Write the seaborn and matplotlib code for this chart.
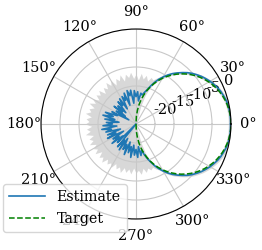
import numpy as np
import matplotlib
matplotlib.use("Agg")
import matplotlib.pyplot as plt
import seaborn as sns

# angles in degrees, 3 deg steps
angles_deg = list(range(0, 360, 3))

estimate_db = [
    -0.1, -0.1, -0.1, -0.2, -0.3, -0.5, -0.8, -1.1, -1.5, -2.0,     # 0-27
    -2.5, -3.1, -3.7, -4.4, -5.1, -5.9, -6.8, -7.7, -8.6, -9.6,     # 30-57
    -10.7, -11.8, -13.0, -14.3, -15.5, -16.4, -17.2, -16.8, -18.9, -16.5,  # 60-87
    -17.8, -16.2, -19.5, -16.0, -17.4, -15.9, -19.8, -16.3, -18.2, -16.9,  # 90-117
    -20.4, -17.1, -19.0, -17.5, -21.0, -18.3, -20.2, -17.6, -21.5, -18.8,  # 120-147
    -22.8, -17.9, -19.6, -16.4, -18.7, -16.0, -19.3, -16.7, -20.5, -17.2,  # 150-177
    -18.8, -16.3, -19.9, -15.9, -18.4, -16.8, -20.7, -17.0, -19.2, -16.6,  # 180-207
    -21.2, -17.8, -19.5, -16.9, -20.3, -18.1, -25.0, -17.3, -19.8, -16.9,  # 210-237
    -20.6, -17.5, -19.1, -16.4, -20.0, -17.2, -18.9, -16.1, -19.4, -16.8,  # 240-267
    -18.3, -16.2, -19.0, -16.6, -17.9, -16.7, -15.5, -14.3, -13.0, -11.8,  # 270-297
    -10.7, -9.6, -8.6, -7.7, -6.8, -5.9, -5.1, -4.4, -3.7, -3.1,    # 300-327
    -2.5, -2.0, -1.5, -1.1, -0.8, -0.5, -0.3, -0.2, -0.1, -0.1,     # 330-357
]

band_hi_db = [
    0.0, 0.0, 0.0, 0.0, 0.0, -0.1, -0.4, -0.7, -1.1, -1.6,
    -2.1, -2.7, -3.3, -4.0, -4.7, -5.5, -6.4, -7.3, -8.2, -9.2,
    -10.2, -11.0, -11.8, -12.6, -12.1, -13.3, -11.9, -13.0, -11.6, -13.4,
    -11.8, -13.0, -11.3, -12.6, -11.6, -13.3, -11.4, -12.8, -11.9, -13.5,
    -11.7, -12.9, -11.5, -13.1, -12.1, -13.6, -11.8, -12.9, -12.0, -13.4,
    -11.8, -13.0, -11.5, -13.2, -12.0, -12.7, -11.4, -13.1, -11.8, -12.6,
    -11.6, -13.3, -11.9, -12.8, -11.4, -13.4, -12.0, -12.9, -11.6, -13.2,
    -12.0, -12.9, -11.7, -13.4, -11.9, -12.7, -11.5, -13.1, -12.0, -12.8,
    -11.8, -13.3, -12.1, -12.9, -11.6, -13.1, -12.0, -13.0, -11.8, -13.4,
    -12.1, -12.8, -11.7, -13.2, -12.0, -13.0, -12.3, -12.8, -12.0, -11.4,
    -10.2, -9.1, -8.1, -7.2, -6.3, -5.4, -4.6, -3.9, -3.2, -2.6,
    -2.0, -1.5, -1.0, -0.6, -0.3, -0.1, 0.0, 0.0, 0.0, 0.0,
]

band_lo_db = (
    [-0.7, -0.7, -0.7, -0.8, -0.9, -1.1, -1.4, -1.7, -2.1, -2.6,
     -3.1, -3.7, -4.3, -5.0, -5.7, -6.5, -7.4, -8.3, -9.2, -10.2,
     -11.3, -12.4, -13.6, -15.0, -17.0, -20.0]
    + [-25.0] * 69
    + [-20.0, -17.0, -15.0, -13.6, -12.4, -11.3, -10.2, -9.2, -8.3, -7.4,
       -6.5, -5.7, -5.0, -4.3, -3.7, -3.1, -2.6, -2.1, -1.7, -1.4,
       -1.1, -0.9, -0.8, -0.7, -0.7]
)

# target main lobe, -90..90 deg
target_deg = list(range(-90, 91, 3))
target_db = [
    -25.0, -22.96, -21.33, -19.83, -18.42, -17.08, -15.79, -14.55, -13.36, -12.22,
    -11.13, -10.09, -9.09, -8.14, -7.23, -6.38, -5.58, -4.82, -4.12, -3.47,
    -2.88, -2.34, -1.85, -1.42, -1.04, -0.73, -0.47, -0.26, -0.12, -0.03,
    0.0,
    -0.03, -0.12, -0.26, -0.47, -0.73, -1.04, -1.42, -1.85, -2.34, -2.88,
    -3.47, -4.12, -4.82, -5.58, -6.38, -7.23, -8.14, -9.09, -10.09, -11.13,
    -12.22, -13.36, -14.55, -15.79, -17.08, -18.42, -19.83, -21.33, -22.96, -25.0,
]

assert len(estimate_db) == len(angles_deg) == len(band_hi_db) == len(band_lo_db)
assert len(target_db) == len(target_deg)

plt.rcParams['font.family'] = ['DejaVu Serif']
plt.rcParams['font.size'] = 10.5
plt.rcParams['axes.unicode_minus'] = False
plt.rcParams['grid.color'] = '#c8c8c8'

# close the loop
th = np.deg2rad(angles_deg + [360])
est = estimate_db + estimate_db[:1]
hi = band_hi_db + band_hi_db[:1]
lo = band_lo_db + band_lo_db[:1]

fig = plt.figure(figsize=(2.62, 2.5), dpi=100)
ax = fig.add_axes([41 / 262, 31 / 250, 190 / 262, 190 / 250], projection='polar')

ax.fill_between(th, lo, hi, color='grey', alpha=0.3, lw=0)
sns.lineplot(x=th, y=est, ax=ax, sort=False, color='tab:blue', lw=1.2, label='Estimate')
sns.lineplot(x=np.deg2rad(target_deg), y=target_db, ax=ax, sort=False,
             color='g', lw=1.1, linestyle='--', label='Target')

ax.set_rlim(-25, 0)
ax.set_rticks([-20, -15, -10, -5, 0])
ax.set_thetagrids(range(0, 360, 30))
ax.set_xlabel('')
ax.set_ylabel('')
ax.tick_params(axis='x', pad=2)

ax.legend(loc='lower left', bbox_to_anchor=(3 / 262, 18 / 250),
          bbox_transform=fig.transFigure, borderaxespad=0, fontsize=10.3,
          borderpad=0.45, handlelength=2.5)

fig.savefig('out.png', dpi=100)
